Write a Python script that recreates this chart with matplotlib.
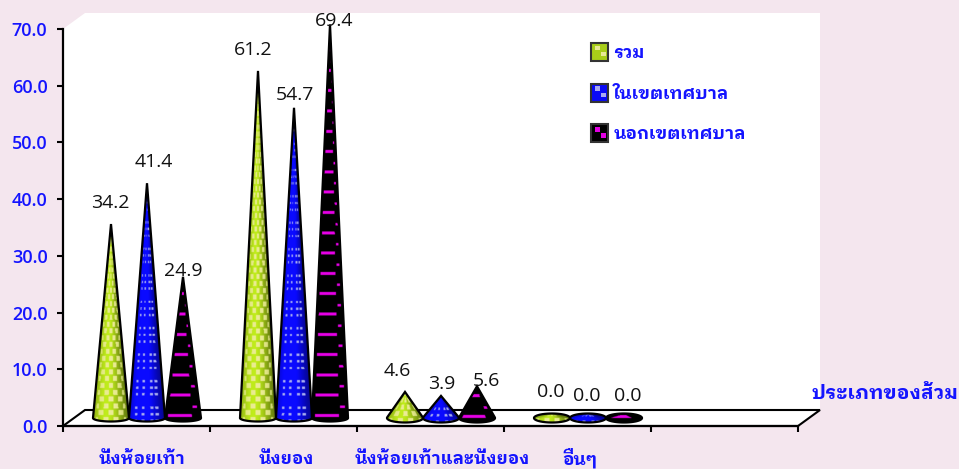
import numpy as np
import matplotlib
matplotlib.use("Agg")
import matplotlib.pyplot as plt
from matplotlib.patches import Polygon, Rectangle, Patch
from matplotlib.legend_handler import HandlerBase

plt.rcParams["font.family"] = ["IBM Plex Sans Thai Looped", "DejaVu Sans"]

# ---- data
categories = ["นั่งห้อยเท้า", "นั่งยอง", "นั่งห้อยเท้าและนั่งยอง", "อื่นๆ"]
series_names = ["รวม", "ในเขตเทศบาล", "นอกเขตเทศบาล"]
total = [34.2, 61.2, 4.6, 0.0]
urban = [41.4, 54.7, 3.9, 0.0]
rural = [24.9, 69.4, 5.6, 0.0]
y_ticks = [0, 10, 20, 30, 40, 50, 60, 70]
x_title = "ประเภทของส้วม"

BG = "#F4E6EE"
BLUE = "#1414FF"
W, H = 959, 469
fig = plt.figure(figsize=(W/100, H/100), dpi=100, facecolor=BG)
L, R, T, B = 63, 798, 29, 426
ax = fig.add_axes([L/W, 1-B/H, (R-L)/W, (B-T)/H], facecolor="none")
ax.set_xlim(0, 5)
ax.set_ylim(0, 70)
PX = 5/(R-L)
PY = 70/(B-T)

DX, DY = 22*PX, 16*PY
ax.add_patch(Polygon([(0, 0), (0, 70), (DX, 70+DY), (5+DX, 70+DY), (5+DX, DY), (5, 0)],
                     closed=True, fc="white", ec="none", clip_on=False, zorder=0))
ax.add_patch(Polygon([(0, 0), (DX, DY), (5+DX, DY), (5, 0)], closed=True, fc="white",
                     ec="black", lw=1.5, clip_on=False, zorder=1))


def texture(kind, ys, u):
    shade = 0.80 + 0.30*np.cos((u+0.25)*2.0)
    if kind == 0:
        img = np.array([175, 215, 25.])[None, None, :]*shade[..., None]
        col = np.floor((u+1)*3.5).astype(int)
        row = np.floor(ys/6.8).astype(int)
        m = ((col+row) % 2 == 0) & (ys % 6.8 < 5) & (np.abs(u) < 0.85)
        pale = np.array([236, 236, 150.])*(0.55+0.45*np.cos(u*1.4))[..., None] + \
            img*(0.45-0.45*np.cos(u*1.4))[..., None]
        img = np.where(m[..., None], pale, img)
    elif kind == 1:
        img = np.array([10, 10, 255.])[None, None, :]*shade[..., None]
        m = np.zeros(u.shape, bool)
        for c, w in [(-0.62, 0.07), (-0.22, 0.08), (0.28, 0.09), (0.58, 0.1)]:
            m |= np.abs(u-c) < w
        m &= (ys % 6.6 < 2.4) & (np.floor(ys/6.6) % 4 != 3)
        img = np.where(m[..., None], np.array([165, 170, 240.]), img)
    else:
        img = np.zeros(u.shape+(3,))
        m = (ys % 20.3 > 5) & (ys % 20.3 < 8) & (u > -0.85) & (u < 0.5)
        n = (ys % 20.3 > 14) & (ys % 20.3 < 16.5) & (u > 0.58) & (u < 0.85)
        img = np.where((m | n)[..., None], np.array([230, 0, 230.]), img)
    return np.clip(img, 0, 255).astype(np.uint8)


def cone(xc, value, kind, z):
    a = 18.0
    b = 3.5 if value > 10 else 4.5
    h = value/PY
    if h > b:
        t0 = np.arcsin(b/h)
        th = np.linspace(t0, -np.pi-t0, 60)
        pts = [(0, h)] + [(a*np.cos(q), b*np.sin(q)) for q in th]
    else:
        th = np.linspace(0, 2*np.pi, 80)
        pts = [(a*np.cos(q), b*np.sin(q)) for q in th]
    base = 8*PY
    poly = Polygon([(xc+p*PX, base+q*PY) for p, q in pts], closed=True, fc="none",
                   ec="black", lw=1.6, clip_on=False, zorder=z+0.1)
    ax.add_patch(poly)
    top = max(h, b)
    xs = np.arange(-a, a, 0.5)+0.25
    ys = np.arange(-b, top, 0.5)+0.25
    X, Y = np.meshgrid(xs, ys)
    frac = np.clip(1-np.maximum(Y, 0)/max(top, 1e-6), 0.02, 1)
    U = np.clip(X/(a*frac), -1, 1)
    im = ax.imshow(texture(kind, Y+b, U), origin="lower", aspect="auto",
                   extent=(xc-a*PX, xc+a*PX, base-b*PY, base+top*PY),
                   interpolation="bilinear", zorder=z)
    im.set_clip_path(poly)


label_off = [
    [(-1, 21), (-5, 21), (-8, 21), (-1, 26)],
    [(7, 21), (1, 13), (1, 12), (-1, 22)],
    [(0, 6), (4, 3), (9, 5), (4, 22)],
]
series = [total, urban, rural]
for i in range(4):
    for j, vals in enumerate(series):
        cone(i + (48 + 36*j)/147, vals[i], j, 3+j+i*5)
for j, vals in enumerate(series):
    for i, v in enumerate(vals):
        xc = i + (48 + 36*j)/147
        dx, dy = label_off[j][i]
        ax.annotate(f"{v:.1f}", (xc, v+8*PY), xytext=(dx*0.72, dy*0.72),
                    textcoords="offset points", ha="center", va="center",
                    fontsize=14, color="#111111", zorder=50, annotation_clip=False,
                    family="Open Sans")

ax.set_xlim(0, 5)
ax.set_ylim(0, 70)
ax.set_yticks(y_ticks)
ax.set_yticklabels([f"{v:.1f}" for v in y_ticks], color=BLUE, fontsize=13, family="Open Sans", fontweight="semibold")
ax.set_xticks(range(6))
ax.set_xticklabels([])
ax.set_xticks([(142-L)/147, (286-L)/147, (442-L)/147, (580-L)/147], categories, minor=True,
              color=BLUE, fontsize=12.6, fontweight="bold")
ax.tick_params(axis="x", which="minor", length=0, pad=27.5)
for lab in ax.get_xticklabels(minor=True):
    lab.set_verticalalignment("baseline")
ax.tick_params(axis="both", which="major", length=4.2, width=1.5, color="black")
ax.tick_params(axis="y", which="major", pad=7)
for s in ("top", "right"):
    ax.spines[s].set_visible(False)
for s in ("left", "bottom"):
    ax.spines[s].set_linewidth(1.6)
    ax.spines[s].set_zorder(40)

fig.text(885/W, 1-393/H, x_title, ha="center", va="center", color=BLUE, fontsize=14.2, fontweight="bold")


class Swatch(HandlerBase):
    def __init__(self, kind):
        super().__init__()
        self.kind = kind

    def create_artists(self, legend, orig, xd, yd, w, h, fs, trans):
        col = ["#A8CD19", "#0A0AF5", "#000000"][self.kind]
        spot = ["#E8E896", "#AAAAF0", "#E100E1"][self.kind]
        arts = [Rectangle((-xd, -yd), w, h, fc=col, ec="#333333", lw=1.5, transform=trans)]
        for fx, fy in [(0.25, 0.6), (0.6, 0.25)]:
            arts.append(Rectangle((-xd+fx*w, -yd+fy*h), 0.28*w, 0.25*h, fc=spot, ec="none", transform=trans))
        return arts


handles = [Patch(label=n) for n in series_names]
leg = ax.legend(handles=handles, loc="upper left", bbox_to_anchor=(591/W, 1-43/H),
                bbox_transform=fig.transFigure, frameon=False, labelcolor=BLUE,
                handlelength=0.97, handleheight=1.2, handletextpad=0.3, labelspacing=1.3,
                borderpad=0, borderaxespad=0, prop={"weight": "bold", "size": 12.6},
                handler_map={handles[k]: Swatch(k) for k in range(3)})
leg.set_zorder(60)

fig.savefig("out.png", dpi=100, facecolor=BG)
